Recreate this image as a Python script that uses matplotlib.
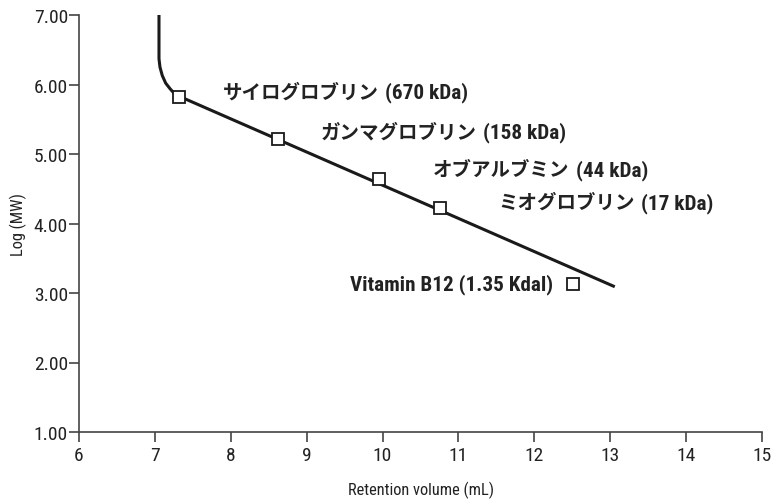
import matplotlib
matplotlib.use("Agg")
import matplotlib.pyplot as plt
from matplotlib import font_manager as fm

# ---- data ----
proteins = ["サイログロブリン", "ガンマグロブリン", "オブアルブミン", "ミオグロブリン",
            "Vitamin B12"]
masses = ["(670 kDa)", "(158 kDa)", "(44 kDa)", "(17 kDa)", "(1.35 Kdal)"]
ret_vol = [7.32, 8.62, 9.95, 10.76, 12.51]
log_mw = [5.82, 5.22, 4.64, 4.22, 3.13]
# calibration curve vertices
curve_x = [7.054, 7.054, 7.067, 7.097, 7.142, 7.199, 7.265, 7.321, 13.06]
curve_y = [7.00, 6.37, 6.25, 6.13, 6.02, 5.94, 5.86, 5.83, 3.09]
label_x = [7.89, 9.18, 10.66, 11.52, 12.25]
label_y = [5.89, 5.32, 4.77, 4.30, 3.13]
x_ticks = list(range(6, 16))
y_ticks = [1.0, 2.0, 3.0, 4.0, 5.0, 6.0, 7.0]

names = {f.name for f in fm.fontManager.ttflist}
latin = next((n for n in ["Roboto Condensed", "Archivo Narrow", "PT Sans Narrow",
                          "Fira Sans Condensed"] if n in names), "DejaVu Sans")
fam = [latin, "Noto Sans CJK JP", "DejaVu Sans"]
plt.rcParams['font.family'] = fam

fig = plt.figure(figsize=(7.73, 5.02), dpi=100)
ax = fig.add_axes([79/773, 1-433/502, (762-79)/773, (433-16)/502])

ax.plot(curve_x, curve_y, color="#1a1a1a", lw=2.2, solid_capstyle="butt",
        solid_joinstyle="round", zorder=2)
ax.plot(ret_vol, log_mw, linestyle="none", marker="s", markersize=8,
        markerfacecolor="white", markeredgecolor="#1a1a1a", markeredgewidth=1.3, zorder=3)

tc = "#222222"
for name, mass, x, y in zip(proteins, masses, label_x, label_y):
    if name.isascii():
        ax.text(x, y, f"{name} {mass}", ha="right", va="center", fontsize=15.2,
                fontweight="bold", color=tc, family=fam)
    else:
        t1 = ax.text(x, y, name, ha="left", va="center", fontsize=14,
                     fontweight="bold", color=tc, family=fam)
        ax.annotate(mass, xy=(1, 0.5), xycoords=t1, xytext=(7, 0),
                    textcoords="offset pixels", ha="left", va="center",
                    fontsize=15.3, fontweight="bold", color=tc, family=fam)

ax.set_xlim(6, 15)
ax.set_ylim(1, 7)
ax.set_xticks(x_ticks)
ax.set_xticklabels([str(v) for v in x_ticks])
ax.set_yticks(y_ticks)
ax.set_yticklabels([f"{v:.2f}" for v in y_ticks])
for s in ["top", "right"]:
    ax.spines[s].set_visible(False)
for s in ["left", "bottom"]:
    ax.spines[s].set_color("#444444")
    ax.spines[s].set_linewidth(1.2)
ax.tick_params(axis="both", direction="out", length=7, width=1.2, color="#444444",
               labelsize=14, labelcolor=tc)
ax.tick_params(axis="y", pad=1)
ax.tick_params(axis="x", pad=3)

ax.set_xlabel("Retention volume (mL)", fontsize=11.8, color=tc, labelpad=12)
ax.set_ylabel("Log (MW)", fontsize=11.8, color=tc, labelpad=5)

fig.savefig("out.png", dpi=100)
